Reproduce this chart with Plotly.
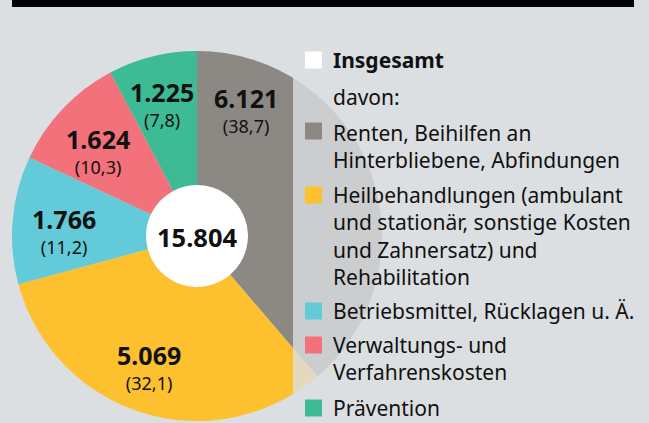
import plotly.graph_objects as go

# ---------------- data ----------------
categories = [
    "Renten, Beihilfen an<br>Hinterbliebene, Abfindungen",
    "Heilbehandlungen (ambulant<br>und stationär, sonstige Kosten<br>und Zahnersatz) und<br>Rehabilitation",
    "Betriebsmittel, Rücklagen u. Ä.",
    "Verwaltungs- und<br>Verfahrenskosten",
    "Prävention",
]
values = [6121, 5069, 1766, 1624, 1225]          # Mio. Euro
shares = [38.7, 32.1, 11.2, 10.3, 7.8]           # Prozent
total = 15804
total_label = "Insgesamt"
sub_label = "davon:"

# ---------------- style ----------------
W, H = 649, 423
BG = "#dcdfe2"
colors = ["#8c8984", "#fdc02f", "#62cad8", "#f2717b", "#3dbb94"]
FONT = "Noto Sans"
TXT = "#111111"


def de_int(v):
    return f"{v:,}".replace(",", ".")


def de_dec(v):
    return f"{v:.1f}".replace(".", ",")


def px(x):
    return x / W


def py(y):
    return 1 - y / H


# pie geometry (pixels)
cx, cy, r = 197, 236, 185
hole_r = 51

fig = go.Figure()
fig.add_trace(go.Pie(
    values=values,
    labels=[c.replace("<br>", " ") for c in categories],
    marker=dict(colors=colors, line=dict(width=0)),
    sort=False,
    direction="clockwise",
    rotation=0,
    hole=hole_r / r,
    textinfo="none",
    showlegend=False,
    domain=dict(x=[px(cx - r), px(cx + r)], y=[py(cy + r), py(cy - r)]),
))

shapes = []
# top black bar
shapes.append(dict(type="rect", xref="paper", yref="paper",
                   x0=px(12), x1=px(634), y0=py(7), y1=py(0),
                   fillcolor="#000000", line=dict(width=0), layer="above"))
# white centre disc
shapes.append(dict(type="circle", xref="paper", yref="paper",
                   x0=px(cx - hole_r), x1=px(cx + hole_r),
                   y0=py(cy + hole_r), y1=py(cy - hole_r),
                   fillcolor="#ffffff", line=dict(width=0), layer="below"))
# translucent legend panel over the right part of the pie
shapes.append(dict(type="rect", xref="paper", yref="paper",
                   x0=px(293), x1=1, y0=0, y1=py(8),
                   fillcolor="rgba(220,223,226,0.79)", line=dict(width=0),
                   layer="above"))

annotations = []
# slice labels (value + share): centre of the two-line block, in pixels
label_pos = [(246, 110), (149, 366), (64, 230), (98, 151), (162, 103)]
for (lx, ly), v, s in zip(label_pos, values, shares):
    annotations.append(dict(
        xref="paper", yref="paper", x=px(lx), y=py(ly),
        text=(f"<span style='font-size:25px'><b>{de_int(v)}</b></span><br>"
              f"<span style='font-size:18px'>({de_dec(s)})</span>"),
        showarrow=False, align="center",
        xanchor="center", yanchor="middle",
        font=dict(family=FONT, size=19, color=TXT)))
# centre total
annotations.append(dict(xref="paper", yref="paper", x=px(cx), y=py(cy + 1),
                        text=f"<b>{de_int(total)}</b>", showarrow=False,
                        xanchor="center", yanchor="middle",
                        font=dict(family=FONT, size=25.5, color=TXT)))

# legend (squares + text)
SQ = 17
sq_x = 305
txt_x = 331
leg_font = dict(family=FONT, size=21, color=TXT)
# Insgesamt
shapes.append(dict(type="rect", xref="paper", yref="paper",
                   x0=px(sq_x), x1=px(sq_x + SQ), y0=py(60 + SQ / 2), y1=py(60 - SQ / 2),
                   fillcolor="#ffffff", line=dict(width=0), layer="above"))
annotations.append(dict(xref="paper", yref="paper", x=px(txt_x), y=py(60),
                        text=f"<b>{total_label}</b>", showarrow=False,
                        xanchor="left", yanchor="middle", font=leg_font))
annotations.append(dict(xref="paper", yref="paper", x=px(txt_x), y=py(97),
                        text=sub_label, showarrow=False,
                        xanchor="left", yanchor="middle", font=leg_font))

sq_centres = [131, 195, 311, 345, 408]
text_centres = [146, 235.5, 311, 358.5, 408]
for c, col, sc, tc in zip(categories, colors, sq_centres, text_centres):
    shapes.append(dict(type="rect", xref="paper", yref="paper",
                       x0=px(sq_x), x1=px(sq_x + SQ), y0=py(sc + SQ / 2), y1=py(sc - SQ / 2),
                       fillcolor=col, line=dict(width=0), layer="above"))
    annotations.append(dict(xref="paper", yref="paper", x=px(txt_x), y=py(tc),
                            text=c, showarrow=False, align="left",
                            xanchor="left", yanchor="middle", font=leg_font))

fig.update_layout(
    width=W, height=H, autosize=False,
    margin=dict(l=0, r=0, t=0, b=0),
    paper_bgcolor=BG, plot_bgcolor=BG,
    shapes=shapes, annotations=annotations,
    showlegend=False,
    font=dict(family=FONT, color=TXT),
)

fig.write_html("out.html",
               config={"displayModeBar": False},
               post_script="document.body.style.margin='0';document.body.style.overflow='hidden';")
